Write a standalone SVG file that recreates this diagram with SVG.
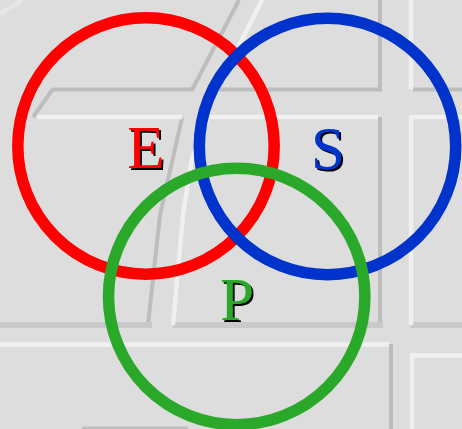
<svg xmlns="http://www.w3.org/2000/svg" width="462" height="429" viewBox="0 0 462 429">
  <style>
    .sh { stroke: #bdbdbd; stroke-width: 4; fill: none; }
    .sh2 { stroke: #c9c9c9; stroke-width: 6; fill: none; }
    .hl { stroke: #f0f0f0; stroke-width: 4.5; fill: none; }
    .ring { fill: none; stroke-width: 11.5; }
    .lbl { font-family: "Liberation Serif", "Times New Roman", serif; font-size: 61px; text-anchor: middle; filter: url(#ds); }
  </style>
  <defs>
    <filter id="ds" x="-30%" y="-30%" width="160%" height="160%">
      <feOffset in="SourceAlpha" dx="2" dy="2" result="o"/>
      <feMerge>
        <feMergeNode in="o"/>
        <feMergeNode in="SourceGraphic"/>
      </feMerge>
    </filter>
  </defs>
  <rect x="0" y="0" width="462" height="429" fill="#dddddd"/>
  <g id="map">
    <line class="hl" x1="0" y1="14" x2="22" y2="0" stroke-opacity="0.5"/>
    <line class="sh" x1="53" y1="89.5" x2="193" y2="89.5"/>
    <line class="sh" x1="218" y1="89.5" x2="382" y2="89.5"/>
    <line class="sh" x1="413" y1="89.5" x2="462" y2="89.5"/>
    <line class="sh" x1="380" y1="0" x2="380" y2="91"/>
    <line class="sh" x1="380" y1="117" x2="380" y2="326" stroke="#c6c6c6"/>
    <polyline class="sh" points="239,0 192,90"/>
    <polyline class="sh" points="182,118 160,215 148,325" stroke="#c4c4c4"/>
    <line class="sh" x1="53" y1="89" x2="33" y2="117" stroke="#c6c6c6" stroke-width="3"/>
    <line class="sh2" x1="0" y1="325" x2="152" y2="325"/>
    <line class="sh2" x1="173" y1="325" x2="383" y2="325"/>
    <line class="sh2" x1="411" y1="325" x2="462" y2="325"/>
    <line class="sh" x1="391" y1="344" x2="391" y2="429" stroke="#c2c2c2" stroke-width="3.5"/>
    <line class="sh" x1="82" y1="428.5" x2="188" y2="428.5" stroke="#c8c8c8" stroke-width="2"/>
    <line class="hl" x1="37" y1="117" x2="182" y2="117"/>
    <line class="hl" x1="207" y1="117" x2="378" y2="117"/>
    <line class="hl" x1="413" y1="117" x2="462" y2="117"/>
    <line class="hl" x1="411" y1="0" x2="411" y2="89"/>
    <line class="hl" x1="411" y1="115" x2="411" y2="325"/>
    <polyline class="hl" points="262,0 217,89"/>
    <polyline class="hl" points="208,117 192,158 183,215 173,325"/>
    <line class="hl" x1="0" y1="344.5" x2="389" y2="344.5"/>
    <line class="hl" x1="411" y1="355.5" x2="462" y2="355.5"/>
    <line class="hl" x1="412" y1="354" x2="412" y2="429"/>
  </g>
  <g id="node-E">
    <circle class="ring" cx="146" cy="146" r="128.2" stroke="#ff0000"/>
    <text class="lbl" x="146" y="168" fill="#ff0000">E</text>
  </g>
  <g id="node-S">
    <circle class="ring" cx="327.5" cy="146.5" r="128.2" stroke="#0033cc"/>
    <text class="lbl" x="328" y="169" fill="#0033cc" font-size="64">S</text>
  </g>
  <g id="node-P">
    <circle class="ring" cx="236.7" cy="296.5" r="128.2" stroke="#2aa82a"/>
    <text class="lbl" x="237" y="320" fill="#2aa82a">P</text>
  </g>
</svg>
